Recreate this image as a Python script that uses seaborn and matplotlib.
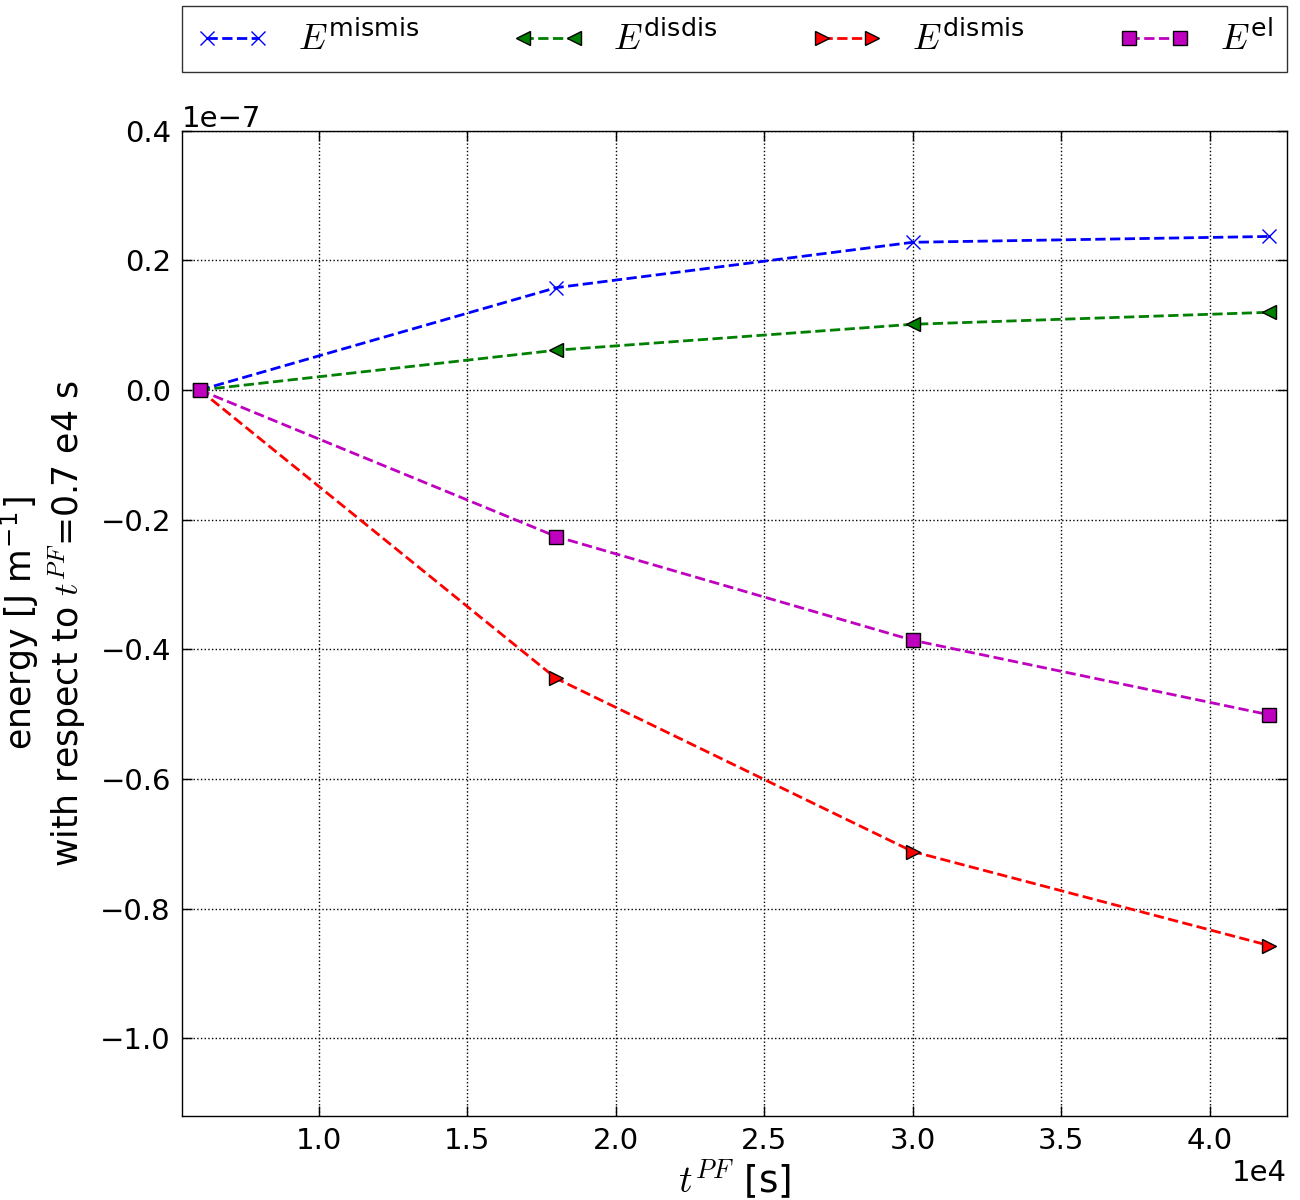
import pandas as pd
import matplotlib
matplotlib.use("Agg")
import matplotlib.pyplot as plt
import seaborn as sns

# ================= data =================
t_pf = [0.6e4, 1.8e4, 3.0e4, 4.2e4]
e_mismis = [0.0, 0.158e-7, 0.228e-7, 0.237e-7]
e_disdis = [0.0, 0.0615e-7, 0.1015e-7, 0.120e-7]
e_dismis = [0.0, -0.445e-7, -0.712e-7, -0.857e-7]
e_el = [0.0, -0.226e-7, -0.386e-7, -0.501e-7]

series_names = ["mismis", "disdis", "dismis", "el"]
series_values = [e_mismis, e_disdis, e_dismis, e_el]
series_labels = [r"$E^{\mathrm{mismis}}$", r"$E^{\mathrm{disdis}}$",
                 r"$E^{\mathrm{dismis}}$", r"$E^{\mathrm{el}}$"]
# ========================================

df = pd.DataFrame({
    "t": t_pf * len(series_names),
    "energy": sum(series_values, []),
    "series": [n for n in series_names for _ in t_pf],
})

sns.set_theme(style="white")
plt.rcParams["font.family"] = ["DejaVu Sans"]
plt.rcParams["mathtext.fontset"] = "custom"
plt.rcParams["mathtext.rm"] = "DejaVu Sans"
plt.rcParams["mathtext.it"] = "cmmi10"
plt.rcParams["mathtext.bf"] = "DejaVu Sans:bold"
plt.rcParams["text.color"] = "black"
plt.rcParams["axes.labelcolor"] = "black"

# classic matplotlib colours
colors = {"mismis": "#0000ff", "disdis": "#008000", "dismis": "#ff0000", "el": "#bf00bf"}
markers = {"mismis": "x", "disdis": "<", "dismis": ">", "el": "s"}

fig, ax = plt.subplots(figsize=(13, 12), dpi=100)
fig.subplots_adjust(left=0.14, right=0.99, top=0.891, bottom=0.07)

for name, label in zip(series_names, series_labels):
    sub = df[df["series"] == name]
    sns.lineplot(data=sub, x="t", y="energy", ax=ax, color=colors[name],
                 linestyle="--", linewidth=2, marker=markers[name],
                 markersize=10, markeredgecolor="black" if name != "mismis" else colors[name],
                 markeredgewidth=1.0,
                 label=label)

ax.set_xlim(0.54e4, 4.26e4)
ax.set_ylim(-1.12e-7, 0.4e-7)
ax.set_yticks([-1.0e-7, -0.8e-7, -0.6e-7, -0.4e-7, -0.2e-7, 0.0, 0.2e-7, 0.4e-7])
ax.ticklabel_format(axis="both", style="sci", scilimits=(0, 0))
ax.xaxis.get_offset_text().set_fontsize(21)
ax.yaxis.get_offset_text().set_fontsize(21)

ax.grid(True, color="black", linestyle=":", linewidth=1)
for sp in ax.spines.values():
    sp.set_color("black")
    sp.set_linewidth(1)
ax.tick_params(axis="both", which="major", direction="in", length=7, width=1,
               top=True, right=True, bottom=True, left=True, labelsize=21,
               colors="black", pad=8)

ax.set_xlabel(r"$t^{PF}$ [s]", fontsize=27, labelpad=2)
ax.set_ylabel("energy [J m$^{-1}$]\nwith respect to $t^{PF}$=0.7 e4 s",
              fontsize=25, labelpad=8)

leg = ax.legend(bbox_to_anchor=(0.0, 1.06, 1.0, 0.068), loc="lower left",
                mode="expand", ncol=4, borderaxespad=0, fontsize=26,
                numpoints=2, handlelength=2.0, frameon=True, fancybox=False)
leg.get_frame().set_edgecolor("black")
leg.get_frame().set_linewidth(1)

fig.savefig("out.png", dpi=100)
